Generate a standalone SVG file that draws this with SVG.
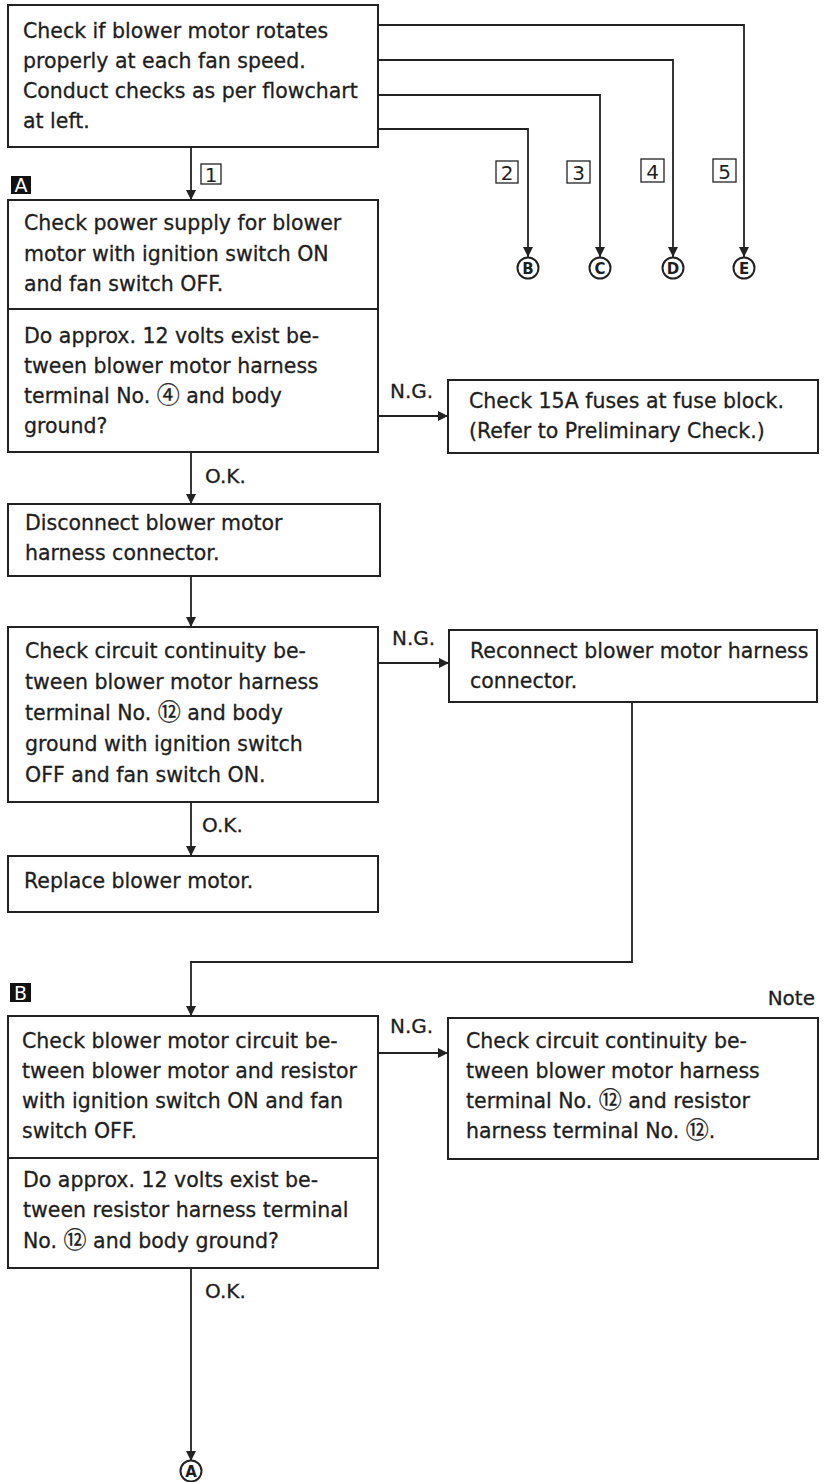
<svg xmlns="http://www.w3.org/2000/svg" width="824" height="1482" viewBox="0 0 824 1482">
  <defs>
    <marker id="arrow" viewBox="0 0 10 10" refX="10" refY="5" markerWidth="10" markerHeight="10" markerUnits="userSpaceOnUse" orient="auto">
      <path d="M0,0 L10,5 L0,10 z" fill="#222"/>
    </marker>
    <style>
      .box { fill: #fff; stroke: #222; stroke-width: 2; }
      .txt { font-family: "DejaVu Sans", "Noto Sans CJK JP", sans-serif; font-size: 20.5px; fill: #1e1e1e; stroke: #1e1e1e; stroke-width: 0.3; }
      .circ { font-family: "Noto Sans CJK JP", "DejaVu Sans", sans-serif; font-size: 23px; }
      .lbl { font-family: "DejaVu Sans", sans-serif; font-size: 20px; fill: #1e1e1e; stroke: #1e1e1e; stroke-width: 0.3; }
      .num { font-family: "DejaVu Sans", sans-serif; font-size: 20px; fill: #1e1e1e; text-anchor: middle; }
      .numbox { fill: none; stroke: #222; stroke-width: 1.3; }
      .wire { fill: none; stroke: #222; stroke-width: 1.8; }
      .arrow { marker-end: url(#arrow); }
      .tag { fill: #111; }
      .tagtxt { font-family: "DejaVu Sans", sans-serif; font-size: 19px; fill: #fff; text-anchor: middle; }
      .ring { fill: #fff; stroke: #222; stroke-width: 2; }
      .ringtxt { font-family: "DejaVu Sans", sans-serif; font-weight: bold; font-size: 15px; fill: #1e1e1e; text-anchor: middle; }
    </style>
  </defs>
  <rect width="824" height="1482" fill="#fff"/>

  <!-- connectors -->
  <g id="connectors">
    <path class="wire arrow" d="M378,25 H744 V257"/>
    <path class="wire arrow" d="M378,60 H673 V257"/>
    <path class="wire arrow" d="M378,95 H600 V257"/>
    <path class="wire arrow" d="M378,129 H528 V257"/>
    <path class="wire arrow" d="M191,147 V200"/>
    <path class="wire arrow" d="M378,416 H448"/>
    <path class="wire arrow" d="M191,452 V504"/>
    <path class="wire arrow" d="M191,576 V627"/>
    <path class="wire arrow" d="M378,663 H449"/>
    <path class="wire arrow" d="M191,802 V856"/>
    <path class="wire arrow" d="M632,702 V962 H191 V1016"/>
    <path class="wire arrow" d="M378,1053 H448"/>
    <path class="wire arrow" d="M191,1268 V1461"/>

    <!-- branch numbers -->
    <rect class="numbox" x="201" y="164" width="20" height="20"/>
    <text class="num" x="211" y="181.5">1</text>
    <rect class="numbox" x="496" y="161" width="22" height="22"/>
    <text class="num" x="507" y="179.5">2</text>
    <rect class="numbox" x="567" y="161" width="23" height="22"/>
    <text class="num" x="578.5" y="179.5">3</text>
    <rect class="numbox" x="641" y="159" width="23" height="23"/>
    <text class="num" x="652.5" y="178.5">4</text>
    <rect class="numbox" x="713" y="159" width="23" height="23"/>
    <text class="num" x="724.5" y="178.5">5</text>

    <!-- result labels -->
    <text class="lbl" x="390" y="398">N.G.</text>
    <text class="lbl" x="205" y="483">O.K.</text>
    <text class="lbl" x="392" y="645">N.G.</text>
    <text class="lbl" x="202" y="832">O.K.</text>
    <text class="lbl" x="390" y="1033">N.G.</text>
    <text class="lbl" x="205" y="1298">O.K.</text>
  </g>

  <!-- start -->
  <g id="node-start">
    <rect class="box" x="8" y="5" width="370" height="142"/>
    <text class="txt" x="23" y="38">Check if blower motor rotates</text>
    <text class="txt" x="23" y="68">properly at each fan speed.</text>
    <text class="txt" x="23" y="98">Conduct checks as per flowchart</text>
    <text class="txt" x="23" y="128">at left.</text>
  </g>

  <!-- section tags -->
  <g id="tag-a">
    <rect class="tag" x="11" y="176" width="20" height="18"/>
    <text class="tagtxt" x="21" y="192">A</text>
  </g>
  <g id="tag-b">
    <rect class="tag" x="10" y="983" width="21" height="19"/>
    <text class="tagtxt" x="20.5" y="999.5">B</text>
  </g>

  <!-- off-page connectors -->
  <g id="goto-b">
    <circle class="ring" cx="528" cy="268" r="10.5"/>
    <text class="ringtxt" x="528" y="273.5">B</text>
  </g>
  <g id="goto-c">
    <circle class="ring" cx="600" cy="268" r="10.5"/>
    <text class="ringtxt" x="600" y="273.5">C</text>
  </g>
  <g id="goto-d">
    <circle class="ring" cx="673" cy="268" r="10.5"/>
    <text class="ringtxt" x="673" y="273.5">D</text>
  </g>
  <g id="goto-e">
    <circle class="ring" cx="744" cy="268" r="10.5"/>
    <text class="ringtxt" x="744" y="273.5">E</text>
  </g>
  <g id="goto-a">
    <circle class="ring" cx="191" cy="1471" r="10.5"/>
    <text class="ringtxt" x="191" y="1476.5">A</text>
  </g>

  <!-- A: power supply check -->
  <g id="node-power">
    <rect class="box" x="8" y="200" width="370" height="252"/>
    <line class="box" x1="8" y1="309" x2="378" y2="309"/>
    <text class="txt" x="24" y="230">Check power supply for blower</text>
    <text class="txt" x="24" y="261">motor with ignition switch ON</text>
    <text class="txt" x="24" y="291">and fan switch OFF.</text>
    <text class="txt" x="24" y="343">Do approx. 12 volts exist be-</text>
    <text class="txt" x="24" y="373">tween blower motor harness</text>
    <text class="txt" x="24" y="403">terminal No. <tspan class="circ">④</tspan> and body</text>
    <text class="txt" x="24" y="433">ground?</text>
  </g>

  <g id="node-fuses">
    <rect class="box" x="448" y="380" width="370" height="73"/>
    <text class="txt" x="469" y="408">Check 15A fuses at fuse block.</text>
    <text class="txt" x="469" y="438">(Refer to Preliminary Check.)</text>
  </g>

  <g id="node-disconnect">
    <rect class="box" x="8" y="504" width="372" height="72"/>
    <text class="txt" x="25" y="530">Disconnect blower motor</text>
    <text class="txt" x="25" y="560">harness connector.</text>
  </g>

  <g id="node-continuity">
    <rect class="box" x="8" y="627" width="370" height="175"/>
    <text class="txt" x="25" y="658">Check circuit continuity be-</text>
    <text class="txt" x="25" y="689">tween blower motor harness</text>
    <text class="txt" x="25" y="720">terminal No. <tspan class="circ">⑫</tspan> and body</text>
    <text class="txt" x="25" y="751">ground with ignition switch</text>
    <text class="txt" x="25" y="782">OFF and fan switch ON.</text>
  </g>

  <g id="node-reconnect">
    <rect class="box" x="449" y="630" width="368" height="72"/>
    <text class="txt" x="470" y="658">Reconnect blower motor harness</text>
    <text class="txt" x="470" y="688">connector.</text>
  </g>

  <g id="node-replace">
    <rect class="box" x="8" y="856" width="370" height="56"/>
    <text class="txt" x="24" y="888">Replace blower motor.</text>
  </g>

  <!-- B: motor-resistor circuit check -->
  <g id="node-circuit">
    <rect class="box" x="8" y="1016" width="370" height="252"/>
    <line class="box" x1="8" y1="1158" x2="378" y2="1158"/>
    <text class="txt" x="22" y="1048">Check blower motor circuit be-</text>
    <text class="txt" x="22" y="1078">tween blower motor and resistor</text>
    <text class="txt" x="22" y="1108">with ignition switch ON and fan</text>
    <text class="txt" x="22" y="1138">switch OFF.</text>
    <text class="txt" x="23" y="1187">Do approx. 12 volts exist be-</text>
    <text class="txt" x="23" y="1217">tween resistor harness terminal</text>
    <text class="txt" x="23" y="1248">No. <tspan class="circ">⑫</tspan> and body ground?</text>
  </g>

  <g id="node-note">
    <text class="lbl" x="815" y="1005" text-anchor="end">Note</text>
    <rect class="box" x="448" y="1018" width="370" height="141"/>
    <text class="txt" x="466" y="1048">Check circuit continuity be-</text>
    <text class="txt" x="466" y="1078">tween blower motor harness</text>
    <text class="txt" x="466" y="1108">terminal No. <tspan class="circ">⑫</tspan> and resistor</text>
    <text class="txt" x="466" y="1138">harness terminal No. <tspan class="circ">⑫</tspan>.</text>
  </g>
</svg>
